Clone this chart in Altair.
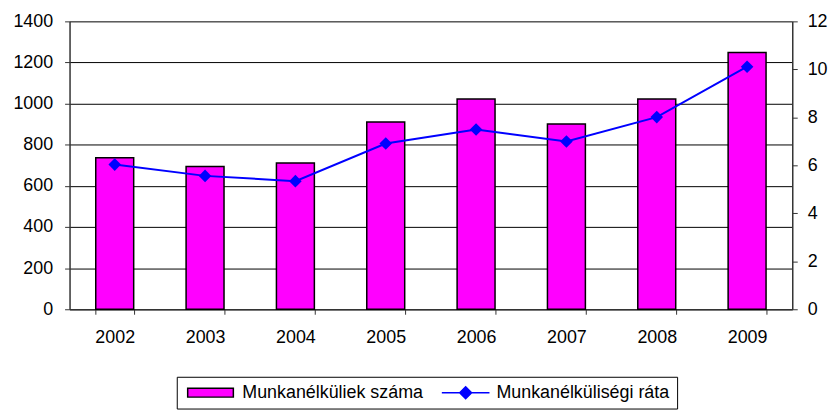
import altair as alt
import pandas as pd

years = ["2002", "2003", "2004", "2005", "2006", "2007", "2008", "2009"]
unemployed = [737, 694, 711, 911, 1023, 901, 1023, 1249]
rate = [6.03, 5.56, 5.34, 6.91, 7.49, 6.99, 8.01, 10.11]
series_bar = "Munkanélküliek száma"
series_line = "Munkanélküliségi ráta"
left_ticks = [0, 200, 400, 600, 800, 1000, 1200, 1400]
right_ticks = [0, 2, 4, 6, 8, 10, 12]

bar_df = pd.DataFrame({"year": years, "value": unemployed, "series": series_bar})
line_df = pd.DataFrame({"year": years, "value": rate, "series": series_line})

FONT = "Liberation Sans"

# symbol unit r = sqrt(100)/2 = 5 px; paths drawn from the entry's left edge
rect_path = "M-1,-0.9L8.2,-0.9L8.2,0.9L-1,0.9Z"
line_path = "M-1,0L8.6,0M2.6,0L3.8,-1.2L5,0L3.8,1.2Z"

legend = alt.Legend(
    title=None,
    orient="none",
    legendX=108,
    legendY=358,
    direction="horizontal",
    strokeColor="black",
    fillColor="white",
    padding=7,
    labelFontSize=18,
    labelFont=FONT,
    labelColor="black",
    labelLimit=0,
    symbolSize=100,
    columnPadding=14,
    labelOffset=41,
    symbolStrokeWidth=1.5,
    symbolOpacity=1,
    symbolType={"expr": f"datum.value === '{series_bar}' ? '{rect_path}' : '{line_path}'"},
    symbolFillColor={"expr": f"datum.value === '{series_bar}' ? '#FF00FF' : '#0000FF'"},
    symbolStrokeColor={"expr": f"datum.value === '{series_bar}' ? 'black' : '#0000FF'"},
)

color = alt.Color(
    "series:N",
    scale=alt.Scale(domain=[series_bar, series_line], range=["#FF00FF", "#0000FF"]),
    legend=legend,
)

x = alt.X(
    "year:N",
    sort=years,
    title=None,
    scale=alt.Scale(paddingInner=0.58, paddingOuter=0.29),
    axis=alt.Axis(labelAngle=0, tickBand="extent", grid=False, labelPadding=14, tickSize=5),
)

bars = alt.Chart(bar_df).mark_bar(stroke="black", strokeWidth=1.5, opacity=1).encode(
    x=x,
    y=alt.Y(
        "value:Q",
        scale=alt.Scale(domain=[0, 1400], nice=False),
        axis=alt.Axis(values=left_ticks, format="d", title=None, grid=True, gridColor="black",
                      gridOpacity=1, labelPadding=12, tickSize=5),
    ),
    color=color,
)

line = alt.Chart(line_df).mark_line(
    color="#0000FF",
    strokeWidth=2,
    point=alt.OverlayMarkDef(shape="diamond", size=160, filled=True, opacity=1, color="#0000FF"),
).encode(
    x=x,
    y=alt.Y(
        "value:Q",
        scale=alt.Scale(domain=[0, 12], nice=False),
        axis=alt.Axis(orient="right", values=right_ticks, format="d", title=None, grid=False,
                      labelPadding=10, tickSize=5),
    ),
)

chart = (
    alt.layer(bars, line)
    .resolve_scale(y="independent")
    .properties(
        width=728,
        height=290,
        autosize=alt.AutoSizeParams(type="none"),
        padding={"left": 62, "top": 12, "right": 36, "bottom": 100},
    )
    .configure_view(stroke="transparent")
    .configure_axis(
        labelFont=FONT,
        labelFontSize=18,
        labelColor="black",
        domainColor="#333333",
        tickColor="#333333",
        domainWidth=1.5,
    )
)

chart.save("out.html", embed_options={"renderer": "svg", "actions": False})
